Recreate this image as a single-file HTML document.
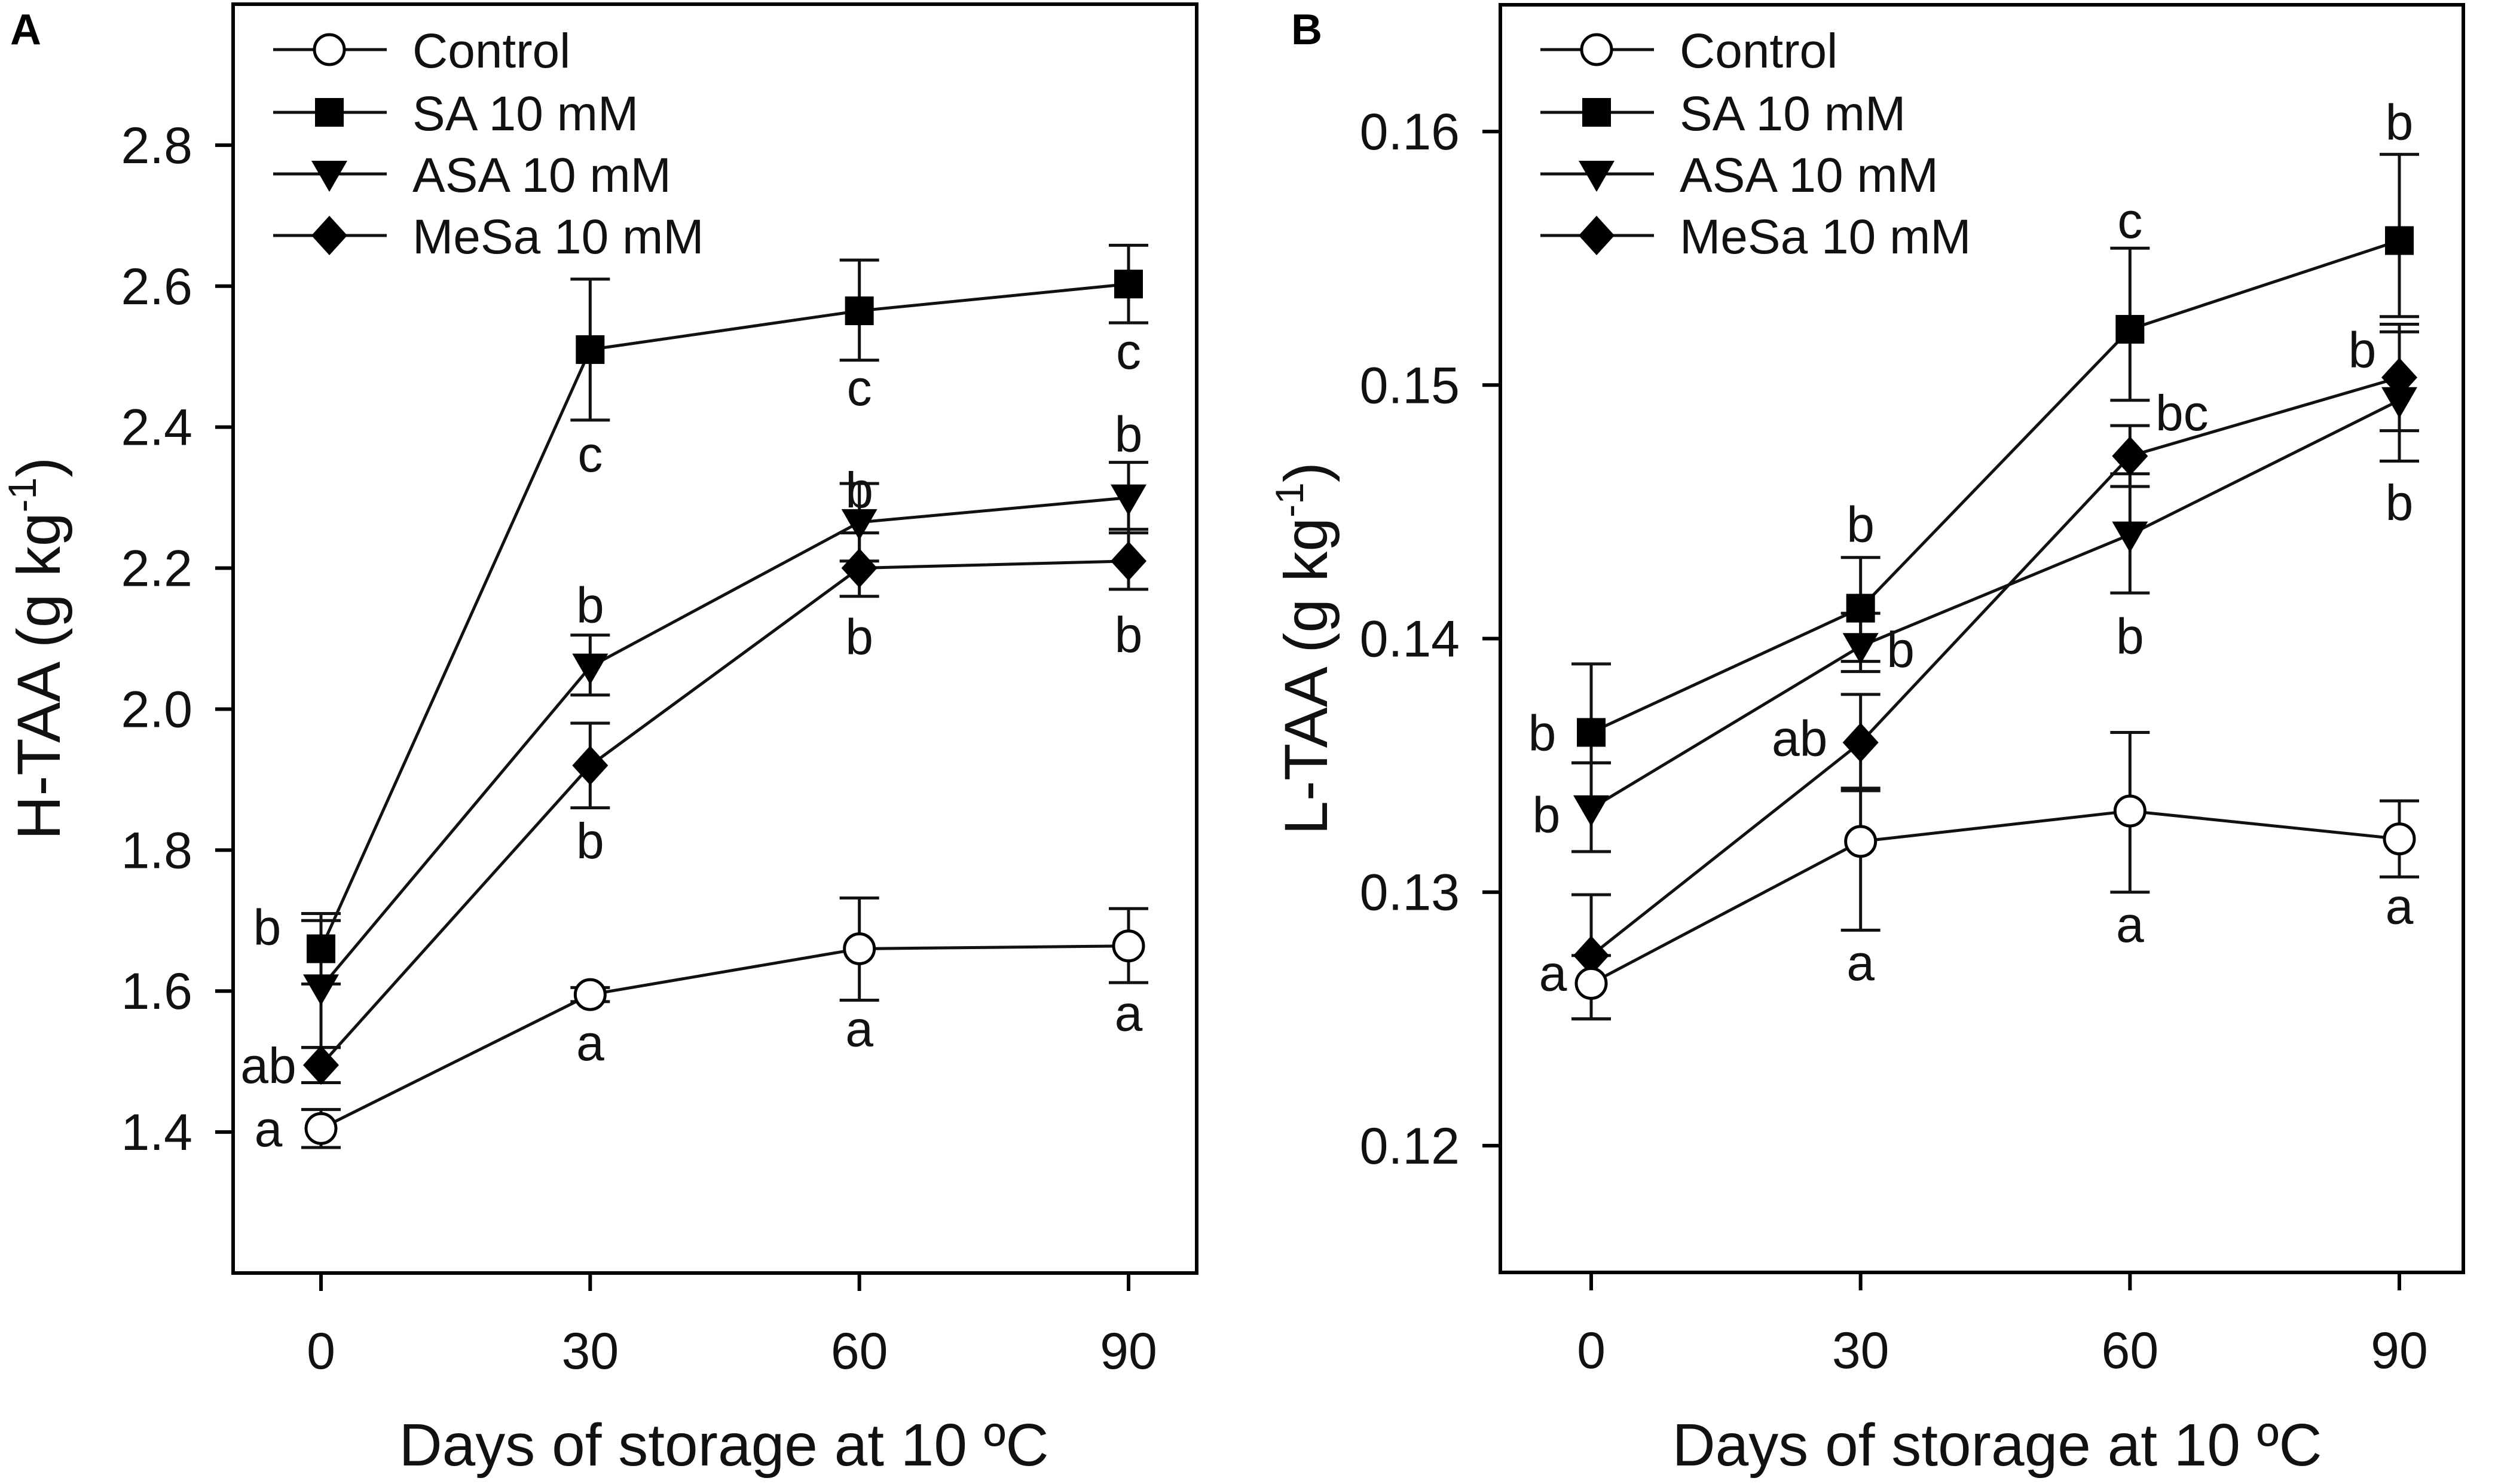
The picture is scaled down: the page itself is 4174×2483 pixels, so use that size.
<!DOCTYPE html>
<html><head><meta charset="utf-8"><style>
html,body{margin:0;padding:0;background:#fff;}
svg{display:block;font-family:"Liberation Sans",Arial,sans-serif;}
</style></head><body>
<svg id="chart" width="4174" height="2483" viewBox="0 0 4174 2483" xmlns="http://www.w3.org/2000/svg"></svg>
<script>
const days = [0, 30, 60, 90];
const seriesNames = ["Control", "SA 10 mM", "ASA 10 mM", "MeSa 10 mM"];
const seriesKeys = ["control", "sa", "asa", "mesa"];
const markerTypes = ["circle", "square", "triangle", "diamond"];

// Panel A: H-TAA
const aTicks = [1.4, 1.6, 1.8, 2.0, 2.2, 2.4, 2.6, 2.8];
const aTickLabels = ["1.4", "1.6", "1.8", "2.0", "2.2", "2.4", "2.6", "2.8"];
const aControl = [1.405, 1.595, 1.66, 1.664];
const aControlLo = [1.378, 1.585, 1.587, 1.612];
const aControlHi = [1.432, 1.605, 1.732, 1.717];
const aSA = [1.66, 2.51, 2.565, 2.603];
const aSALo = [1.61, 2.41, 2.495, 2.548];
const aSAHi = [1.71, 2.61, 2.637, 2.658];
const aASA = [1.605, 2.06, 2.265, 2.30];
const aASALo = [1.52, 2.02, 2.21, 2.25];
const aASAHi = [1.70, 2.105, 2.32, 2.35];
const aMeSa = [1.495, 1.92, 2.20, 2.21];
const aMeSaLo = [1.47, 1.86, 2.16, 2.17];
const aMeSaHi = [1.52, 1.98, 2.25, 2.255];
const aLetters = [["a","a","a","a"],["b","c","c","c"],["","b","b","b"],["ab","b","b","b"]];
const aLetterDx = [[-88,0,0,0],[-90,0,0,0],[0,0,0,0],[-88,0,0,0]];
const aLetterDy = [[0,80,133,112],[-37,174,128,112],[0,-104,-55,-107],[0,125,114,122]];

// Panel B: L-TAA
const bTicks = [0.12, 0.13, 0.14, 0.15, 0.16];
const bTickLabels = ["0.12", "0.13", "0.14", "0.15", "0.16"];
const bControl = [0.1264, 0.1320, 0.1332, 0.1321];
const bControlLo = [0.1250, 0.1285, 0.1300, 0.1306];
const bControlHi = [0.1275, 0.1341, 0.1363, 0.1336];
const bSA = [0.1363, 0.1412, 0.1522, 0.1557];
const bSALo = [0.1351, 0.1391, 0.1494, 0.1527];
const bSAHi = [0.1390, 0.1432, 0.1554, 0.1591];
const bASA = [0.1333, 0.1397, 0.1441, 0.1494];
const bASALo = [0.1316, 0.1387, 0.1418, 0.1470];
const bASAHi = [0.1351, 0.1410, 0.1465, 0.1521];
const bMeSa = [0.1275, 0.1359, 0.1472, 0.1503];
const bMeSaLo = [0.1250, 0.1340, 0.1460, 0.1482];
const bMeSaHi = [0.1299, 0.1378, 0.1484, 0.1524];
const bLetters = [["a","a","a","a"],["b","b","c","b"],["b","b","b","b"],["","ab","bc","b"]];
const bLetterDx = [[-64,0,0,0],[-82,0,0,0],[-75,67,0,0],[0,-102,87,-62]];
const bLetterDy = [[-18,202,189,112],[0,-141,-183,-199],[10,5,169,170],[0,-8,-73,-47]];

const NS = "http://www.w3.org/2000/svg";
const svg = document.getElementById("chart");
function el(tag, attrs, parent) {
  const e = document.createElementNS(NS, tag);
  for (const k in attrs) e.setAttribute(k, attrs[k]);
  (parent || svg).appendChild(e);
  return e;
}

function marker(g, type, cx, cy) {
  let m;
  if (type === "circle") m = el("circle", {cx: cx, cy: cy, r: 25, fill: "#fff", stroke: "#000", "stroke-width": 5}, g);
  else if (type === "square") m = el("rect", {x: cx - 24, y: cy - 24, width: 48, height: 48, fill: "#000"}, g);
  else if (type === "triangle") m = el("polygon", {points: `${cx-30},${cy-22} ${cx+30},${cy-22} ${cx},${cy+30}`, fill: "#000"}, g);
  else m = el("polygon", {points: `${cx},${cy-33} ${cx+30},${cy} ${cx},${cy+33} ${cx-30},${cy}`, fill: "#000"}, g);
  return m;
}

function panel(cfg) {
  const g = el("g", {});
  
  
  const X = d => cfg.px0 + d / 90 * (cfg.px90 - cfg.px0);
  const Y = v => cfg.yb + (v - cfg.dmin) / (cfg.dmax - cfg.dmin) * (cfg.yt - cfg.yb);

  cfg.ticks.forEach((t, i) => {
    const tk = el("line", {x1: cfg.x0 - 30, x2: cfg.x0, y1: Y(t), y2: Y(t), stroke: "#000", "stroke-width": 6}, g);
    
    
    const lb = el("text", {x: cfg.x0 - 68, y: Y(t) + 30, "text-anchor": "end", "font-size": 86, fill: "#111"}, g);
    lb.textContent = cfg.tickLabels[i];
    
    
  });
  days.forEach(d => {
    const tk = el("line", {x1: X(d), x2: X(d), y1: cfg.yb, y2: cfg.yb + 30, stroke: "#000", "stroke-width": 6}, g);
    
    
    const lb = el("text", {x: X(d), y: cfg.yb + 160, "text-anchor": "middle", "font-size": 86, fill: "#111"}, g);
    lb.textContent = String(d);
    
    
  });

  cfg.series.forEach((s, si) => {
    const sg = el("g", {}, g);
    
    
    const pts = days.map((d, i) => `${X(d)},${Y(s.v[i])}`).join(" ");
    const ln = el("polyline", {points: pts, fill: "none", stroke: "#111", "stroke-width": 5}, sg);
    
    
  });
  cfg.series.forEach((s, si) => {
    days.forEach((d, i) => {
      const eg = el("g", {stroke: "#111", "stroke-width": 5}, g);
      
      
      const x = X(d);
      el("line", {x1: x, x2: x, y1: Y(s.lo[i]), y2: Y(s.hi[i])}, eg);
      el("line", {x1: x - 33, x2: x + 33, y1: Y(s.lo[i]), y2: Y(s.lo[i])}, eg);
      el("line", {x1: x - 33, x2: x + 33, y1: Y(s.hi[i]), y2: Y(s.hi[i])}, eg);
    });
  });
  [3, 2, 1, 0].forEach(si => {
    const s = cfg.series[si];
    days.forEach((d, i) => {
      const m = marker(g, markerTypes[si], X(d), Y(s.v[i]));
      
      
    });
  });
  cfg.letters.forEach((row, si) => {
    row.forEach((t, i) => {
      if (!t) return;
      const x = X(days[i]) + cfg.ldx[si][i];
      const y = Y(cfg.series[si].v[i]) + cfg.ldy[si][i];
      const tx = el("text", {x: x, y: y + 30, "text-anchor": "middle", "font-size": 84, fill: "#111"}, g);
      tx.textContent = t;
      
      
    });
  });

  const fr = el("rect", {x: cfg.x0, y: cfg.yt, width: cfg.x1 - cfg.x0, height: cfg.yb - cfg.yt, fill: "none", stroke: "#000", "stroke-width": 6}, g);
  
  

  const lg = el("g", {}, g);
  
  
  const rows = [83, 188, 291, 394];
  seriesNames.forEach((n, si) => {
    const eg = el("g", {}, lg);
    
    
    el("line", {x1: cfg.x0 + 67, x2: cfg.x0 + 257, y1: rows[si], y2: rows[si], stroke: "#111", "stroke-width": 5}, eg);
    marker(eg, markerTypes[si], cfg.x0 + 161, rows[si]);
    const t = el("text", {x: cfg.x0 + 300, y: rows[si] + 30, "font-size": 82, fill: "#111"}, eg);
    t.textContent = n;
  });

  const xt = el("text", {x: cfg.titleX, y: 2452, "text-anchor": "middle", "font-size": 100, fill: "#111"}, g);
  xt.textContent = "Days of storage at 10 ºC";
  
  
  const yt = el("text", {x: 0, y: 0, "text-anchor": "middle", "font-size": 102, fill: "#111", transform: `translate(${cfg.x0 - 290},1085) rotate(-90)`}, g);
  
  
  yt.appendChild(document.createTextNode(cfg.ytitle + " (g kg"));
  const sup = el("tspan", {"font-size": 66, dy: -40}, yt);
  sup.textContent = "-1";
  const cl = el("tspan", {dy: 40}, yt);
  cl.textContent = ")";

  const pl = el("text", {x: cfg.labelX, y: 74, "font-size": 72, "font-weight": "bold", fill: "#000"}, g);
  pl.textContent = cfg.label;
  
  
}

panel({
  name: "panel-a", label: "A", labelX: 17, ytitle: "H-TAA", titleX: 1211,
  x0: 390, x1: 2002, px0: 537, px90: 1888, yt: 7, yb: 2130, dmin: 1.2, dmax: 3.0,
  ticks: aTicks, tickLabels: aTickLabels,
  series: [
    {v: aControl, lo: aControlLo, hi: aControlHi},
    {v: aSA, lo: aSALo, hi: aSAHi},
    {v: aASA, lo: aASALo, hi: aASAHi},
    {v: aMeSa, lo: aMeSaLo, hi: aMeSaHi}
  ],
  letters: aLetters, ldx: aLetterDx, ldy: aLetterDy
});
panel({
  name: "panel-b", label: "B", labelX: 2160, ytitle: "L-TAA", titleX: 3341,
  x0: 2510, x1: 4121, px0: 2662, px90: 4014, yt: 8, yb: 2129, dmin: 0.115, dmax: 0.165,
  ticks: bTicks, tickLabels: bTickLabels,
  series: [
    {v: bControl, lo: bControlLo, hi: bControlHi},
    {v: bSA, lo: bSALo, hi: bSAHi},
    {v: bASA, lo: bASALo, hi: bASAHi},
    {v: bMeSa, lo: bMeSaLo, hi: bMeSaHi}
  ],
  letters: bLetters, ldx: bLetterDx, ldy: bLetterDy
});
</script>
</body></html>
